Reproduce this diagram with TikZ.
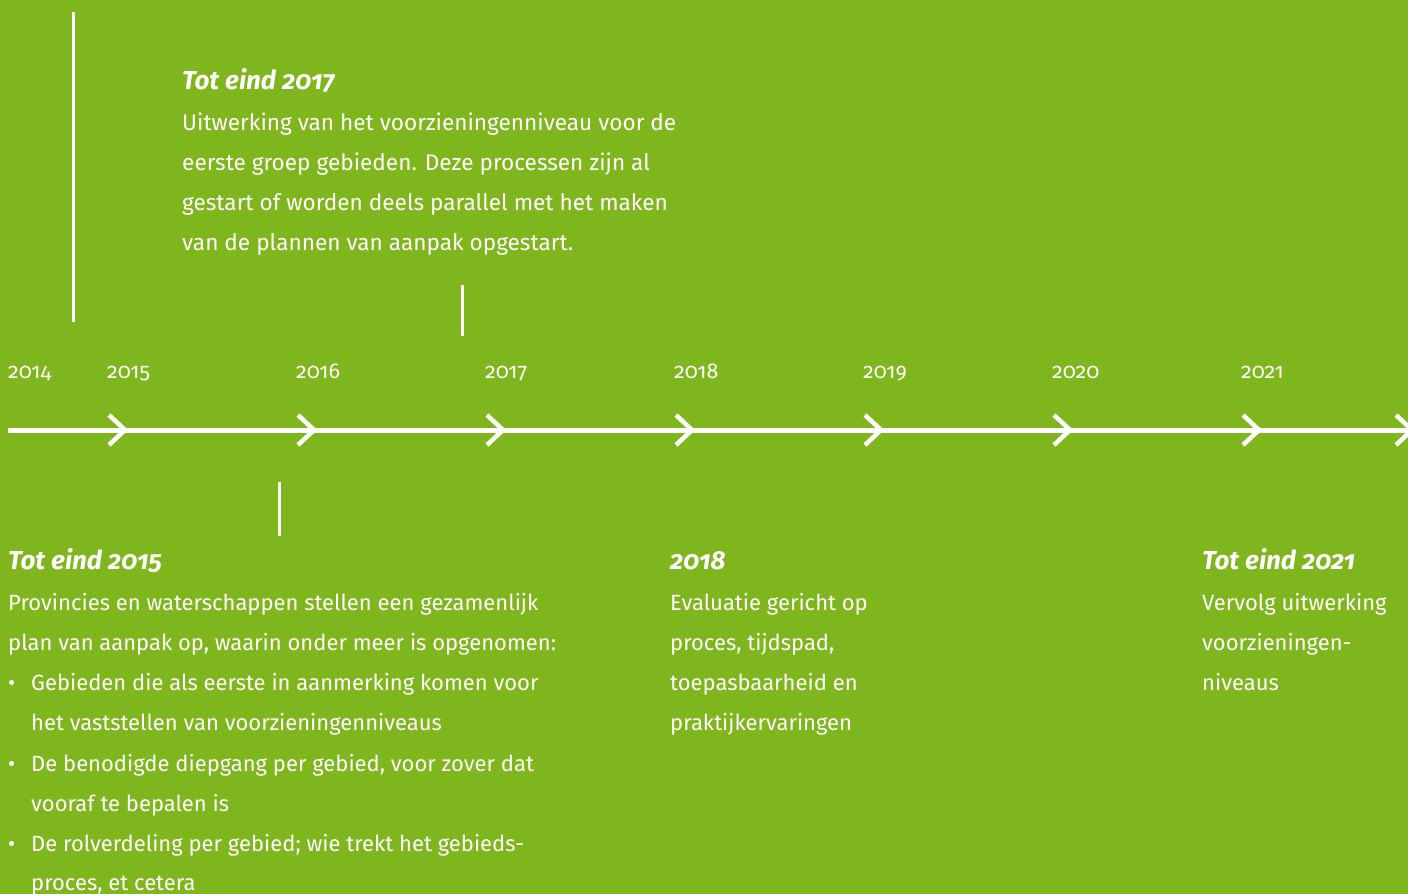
\documentclass[tikz,border=0pt]{standalone}
\usepackage{fontspec}
\setmainfont{Fira Sans}[Numbers=OldStyle]
\definecolor{bggreen}{RGB}{127,181,29}
\tikzset{
  body/.style={anchor=base west, inner sep=0pt, text=white, font=\fontsize{22}{26}\selectfont},
  bodyb/.style={anchor=base west, inner sep=0pt, text=white, font=\fontsize{22.6}{26}\selectfont},
  ttl/.style={anchor=base west, inner sep=0pt, text=white, font=\fontsize{26}{30}\selectfont\bfseries\itshape},
  yr/.style={anchor=base west, inner sep=0pt, text=white, font=\fontsize{21.5}{24}\selectfont},
  tick/.style={draw=white, line width=3pt},
  chev/.style={draw=white, line width=4.5pt, miter limit=10},
}
\begin{document}
\begin{tikzpicture}[x=1pt,y=-1pt]
\fill[bggreen] (0,0) rectangle (1408,894);
\useasboundingbox (0,0) rectangle (1408,894);
% main line
\coordinate (ls) at (8,430);
\coordinate (le) at (1412,430);
\draw[white, line width=5pt] (ls) -- (le);
% chevrons
\foreach \i/\x in {a/109,b/298,c/487,d/676,e/865,f/1054,g/1243,h/1396}{
  \coordinate (c\i) at (\x,430);
  \draw[chev] ([shift={(0,-15)}]c\i) -- ([shift={(16,0)}]c\i) -- ([shift={(0,15)}]c\i);
}
% years
\node[yr] (y14) at (8,378) {2014};
\node[yr] (y15) at (107,378) {2015};
\node[yr] (y16) at (296,378) {2016};
\node[yr] (y17) at (485,378) {2017};
\node[yr] (y18) at (674,378) {2018};
\node[yr] (y19) at (863,378) {2019};
\node[yr] (y20) at (1052,378) {2020};
\node[yr] (y21) at (1241,378) {2021};
% ticks
\coordinate (t1a) at (73,12); \coordinate (t1b) at (73,322);
\draw[tick] (t1a) -- (t1b);
\coordinate (t2a) at (462,285); \coordinate (t2b) at (462,336);
\draw[tick] (t2a) -- (t2b);
\coordinate (t3a) at (279,482); \coordinate (t3b) at (279,536);
\draw[tick] (t3a) -- (t3b);
% block 2017
\node[ttl] (h17) at (182,89) {Tot eind 2017};
\node[bodyb] (b17a) at (182,130) {Uitwerking van het voorzieningenniveau voor de};
\node[bodyb] (b17b) at (182,170) {eerste groep gebieden. Deze processen zijn al};
\node[bodyb] (b17c) at (182,210) {gestart of worden deels parallel met het maken};
\node[bodyb] (b17d) at (182,250) {van de plannen van aanpak opgestart.};
% block 2015
\node[ttl] (h15) at (8,569) {Tot eind 2015};
\node[body] (b15a) at (8,610) {Provincies en waterschappen stellen een gezamenlijk};
\node[body] (b15b) at (8,650) {plan van aanpak op, waarin onder meer is opgenomen:};
\node[body] (u1) at (8,690) {•};
\node[body] (b15c) at (31,690) {Gebieden die als eerste in aanmerking komen voor};
\node[body] (b15d) at (31,730) {het vaststellen van voorzieningenniveaus};
\node[body] (u2) at (8,771) {•};
\node[body] (b15e) at (31,771) {De benodigde diepgang per gebied, voor zover dat};
\node[body] (b15f) at (31,811) {vooraf te bepalen is};
\node[body] (u3) at (8,851) {•};
\node[body] (b15g) at (31,851) {De rolverdeling per gebied; wie trekt het gebieds-};
\node[body] (b15h) at (31,890) {proces, et cetera};
% block 2018
\node[ttl] (h18) at (670,569) {2018};
\node[body] (b18a) at (670,610) {Evaluatie gericht op};
\node[body] (b18b) at (670,650) {proces, tijdspad,};
\node[body] (b18c) at (670,690) {toepasbaarheid en};
\node[body] (b18d) at (670,730) {praktijkervaringen};
% block 2021
\node[ttl] (h21) at (1202,569) {Tot eind 2021};
\node[body] (b21a) at (1202,610) {Vervolg uitwerking};
\node[body] (b21b) at (1202,650) {voorzieningen-};
\node[body] (b21c) at (1202,690) {niveaus};
\end{tikzpicture}
\end{document}
